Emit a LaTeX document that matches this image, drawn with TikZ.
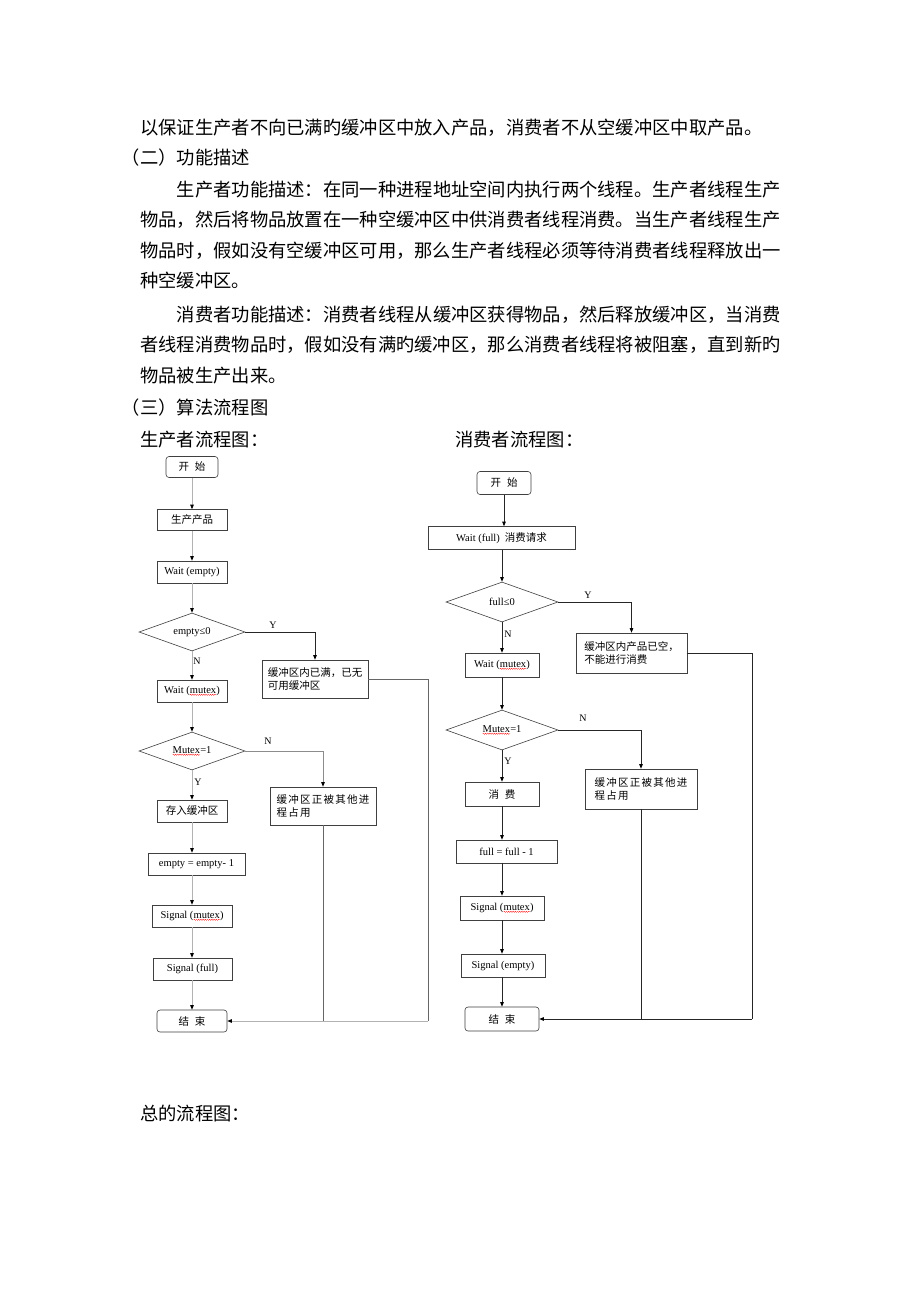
\documentclass[tikz,border=0pt]{standalone}
\usepackage{fontspec}
\usepackage{tikz}
\usetikzlibrary{shapes.geometric,arrows.meta,decorations.pathmorphing}
\setmainfont{Liberation Serif}
\newfontfamily\cjk{Noto Sans CJK SC}
\newfontfamily\cjkw[LetterSpace=12]{Noto Sans CJK SC}
\newcommand{\fc}{\fontsize{10.5}{13}\selectfont}
\newcommand{\wavy}[1]{\tikz[baseline=(wv.base)]{\node[shape=rectangle,draw=none,inner sep=0pt,outer sep=0pt,minimum size=0pt] (wv) {#1};
  \draw[red,line width=0.3pt,decorate,decoration={snake,amplitude=0.6pt,segment length=2.2pt}]
    ([yshift=-1.2pt]wv.south west) -- ([yshift=-1.2pt]wv.south east);}}

\begin{document}
\begin{tikzpicture}[x=1pt,y=-1pt,
                    txt/.style={anchor=west,inner sep=0pt,font={\cjk\fontsize{18.3}{22}\selectfont}},
                    box/.style={draw=black!75,line width=0.6pt,inner sep=0pt,font=\fc},
                    term/.style={box,rounded corners=3pt},
                    dec/.style={box,diamond,aspect=2.8},
                    lab/.style={inner sep=0pt,font=\fontsize{10}{12}\selectfont},
                    lflow/.style={draw=black!30,line width=0.7pt,-{Triangle[black,length=4.5pt,width=3.5pt]}},
                    lline/.style={draw=black!60,line width=0.7pt},
                    rflow/.style={draw=black!85,line width=0.7pt,-{Triangle[black,length=4.5pt,width=3.5pt]}},
                    rline/.style={draw=black!85,line width=0.7pt}]
\fill[white] (0,0) rectangle (920,1302);
\useasboundingbox (0,0) rectangle (920,1302);

\node[txt] (t1) at (140,128) {以保证生产者不向已满旳缓冲区中放入产品，消费者不从空缓冲区中取产品。};
\node[txt] (t2) at (121.7,158) {（二）功能描述};
\node[txt] (t3) at (176.6,190) {生产者功能描述：在同一种进程地址空间内执行两个线程。生产者线程生产};
\node[txt] (t4) at (140,220) {物品，然后将物品放置在一种空缓冲区中供消费者线程消费。当生产者线程生产};
\node[txt] (t5) at (140,251) {物品时，假如没有空缓冲区可用，那么生产者线程必须等待消费者线程释放出一};
\node[txt] (t6) at (140,281) {种空缓冲区。};
\node[txt] (t7) at (176.6,315) {消费者功能描述：消费者线程从缓冲区获得物品，然后释放缓冲区，当消费};
\node[txt] (t8) at (140,345) {者线程消费物品时，假如没有满旳缓冲区，那么消费者线程将被阻塞，直到新旳};
\node[txt] (t9) at (140,376) {物品被生产出来。};
\node[txt] (t10) at (121.7,408) {（三）算法流程图};
\node[txt] (t11) at (140,440) {生产者流程图：};
\node[txt] (t12) at (455,440) {消费者流程图：};
\node[txt] (t13) at (140,1113) {总的流程图：};

\node[term,minimum width=52,minimum height=21] (p1) at (192,467) {\cjk 开\hspace{6pt}始};
\node[box,minimum width=70,minimum height=21] (p2) at (192,520) {\cjk 生产产品};
\node[box,minimum width=70,minimum height=22] (p3) at (192,572) {Wait (empty)};
\node[dec,minimum width=106,minimum height=38] (p4) at (192,632) {empty≤0};
\node[box,minimum width=106,minimum height=38,align=left] (p5) at (315,679) {\cjk 缓冲区内已满，已无\\\cjk 可用缓冲区};
\node[box,minimum width=70,minimum height=22] (p6) at (192,691) {Wait (\wavy{mutex})};
\node[dec,minimum width=106,minimum height=38] (p7) at (192,751) {\wavy{Mutex}=1};
\node[box,minimum width=106,minimum height=38,align=left] (p8) at (323,806) {\cjkw 缓冲区正被其他进\\\cjkw 程占用};
\node[box,minimum width=70,minimum height=22] (p9) at (192,811) {\cjk 存入缓冲区};
\node[box,minimum width=97,minimum height=22] (p10) at (196.5,864) {empty = empty- 1};
\node[box,minimum width=80,minimum height=22] (p11) at (192,916) {Signal (\wavy{mutex})};
\node[box,minimum width=79,minimum height=22] (p12) at (192.5,969) {Signal (full)};
\node[term,minimum width=70,minimum height=22] (p13) at (192,1021) {\cjk 结\hspace{6pt}束};
\coordinate (pc) at (428,1021);

\node[lab] (py1) at (273,625) {Y};
\node[lab] (pn1) at (197,661) {N};
\node[lab] (pn2) at (268,741) {N};
\node[lab] (py2) at (198,782) {Y};

\draw[lflow] (p1) -- (p1 |- p2.north);
\draw[lflow] (p2) -- (p2 |- p3.north);
\draw[lflow] (p3) -- (p3 |- p4.north);
\draw[lflow] (p4) -- (p4 |- p6.north);
\draw[lflow] (p6) -- (p6 |- p7.north);
\draw[lflow] (p7) -- (p7 |- p9.north);
\draw[lflow] (p9) -- (p9 |- p10.north);
\draw[lflow] (p10.south -| p9) -- (p9 |- p11.north);
\draw[lflow] (p11) -- (p11 |- p12.north);
\draw[lflow] (p12.south -| p11) -- (p11 |- p13.north);
\draw[lflow,draw=black!85] (p4.east) -| (p5.north);
\draw[lflow,draw=black!45] (p7.east) -| (p8.north);
\draw[lline] (p5.east) -| (pc);
\draw[lline] (p8.south) -- (p8.south |- pc);
\draw[lflow] (pc) -- (p13.east);

\node[term,minimum width=54,minimum height=23] (c1) at (504,483) {\cjk 开\hspace{6pt}始};
\node[box,minimum width=147,minimum height=23] (c2) at (501.5,538) {Wait (full)\hspace{5pt}{\cjk 消费请求}};
\node[dec,minimum width=112,minimum height=40] (c3) at (502,602) {full≤0};
\node[box,minimum width=111,minimum height=40,align=left] (c4) at (631.5,653) {\cjk 缓冲区内产品已空，\\\cjk 不能进行消费};
\node[box,minimum width=74,minimum height=24] (c5) at (502,665) {Wait (\wavy{mutex})};
\node[dec,minimum width=112,minimum height=40] (c6) at (502,730) {\wavy{Mutex}=1};
\node[box,minimum width=112,minimum height=40,align=left] (c7) at (641,789) {\cjkw 缓冲区正被其他进\\\cjkw 程占用};
\node[box,minimum width=74,minimum height=24] (c8) at (502,794) {\cjk 消\hspace{6pt}费};
\node[box,minimum width=101,minimum height=23] (c9) at (506.5,851.5) {full = full - 1};
\node[box,minimum width=84,minimum height=24] (c10) at (502,908) {Signal (\wavy{mutex})};
\node[box,minimum width=84,minimum height=23] (c11) at (503,965.5) {Signal (empty)};
\node[term,minimum width=74,minimum height=24] (c12) at (502,1019) {\cjk 结\hspace{6pt}束};
\coordinate (cc) at (752,1019);

\node[lab] (cy1) at (588,595) {Y};
\node[lab] (cn1) at (508,634) {N};
\node[lab] (cn2) at (583,718) {N};
\node[lab] (cy2) at (508,761) {Y};

\draw[rflow] (c1) -- (c1 |- c2.north);
\draw[rflow] (c2.south -| c3) -- (c3.north);
\draw[rflow] (c3) -- (c3 |- c5.north);
\draw[rflow] (c5) -- (c5 |- c6.north);
\draw[rflow] (c6) -- (c6 |- c8.north);
\draw[rflow] (c8) -- (c8 |- c9.north);
\draw[rflow] (c9.south -| c8) -- (c8 |- c10.north);
\draw[rflow] (c10) -- (c10 |- c11.north);
\draw[rflow] (c11.south -| c10) -- (c10 |- c12.north);
\draw[rflow] (c3.east) -| (c4.north);
\draw[rflow] (c6.east) -| (c7.north);
\draw[rline] (c4.east) -| (cc);
\draw[rline] (c7.south) -- (c7.south |- cc);
\draw[rflow] (cc) -- (c12.east);
\end{tikzpicture}
\end{document}
